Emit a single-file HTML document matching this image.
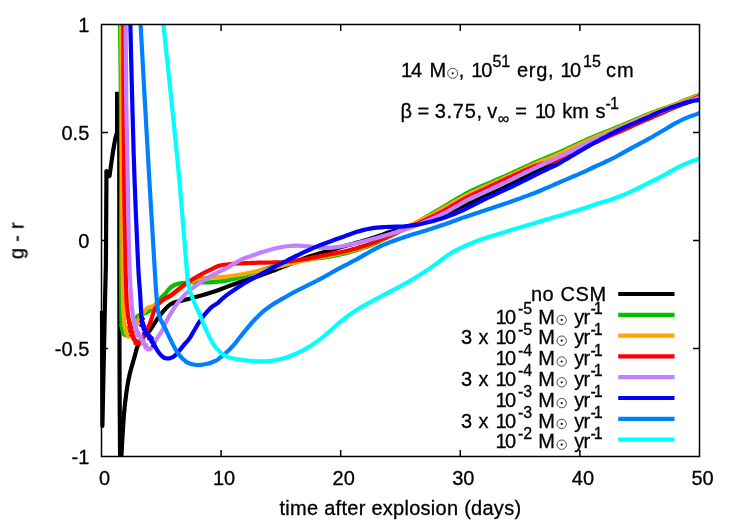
<!DOCTYPE html>
<html><head><meta charset="utf-8"><title>g - r</title>
<style>
html,body{margin:0;padding:0;background:#fff;}
body{width:747px;height:523px;overflow:hidden;}
svg{display:block;}
text{font-family:"Liberation Sans",sans-serif;font-size:20px;fill:#000;stroke:#000;stroke-width:0.3px;}
.s{font-size:16px;}
.c{fill:none;stroke-width:4.2;stroke-linejoin:round;stroke-linecap:butt;}
.sun{fill:none;stroke:#222;stroke-width:0.8;}
</style></head><body>
<svg width="747" height="523" viewBox="0 0 747 523">
<rect width="747" height="523" fill="#fff"/>
<defs><clipPath id="cp"><rect x="98" y="24.5" width="602.0" height="432.0"/></clipPath></defs>

<g clip-path="url(#cp)">
<path class="c" style="stroke-linejoin:round" stroke="#000000" d="M102.0 311.0L102.4 426.0L104.8 311.0L105.9 264.0L106.4 184.0L106.4 171.2L109.5 176.0L113.2 150.0"/>
<path class="c" style="stroke-linejoin:miter" stroke="#000000" d="M112.9 152.0L115.2 139.0L117.1 132.0L117.1 93.9L119.2 93.9L119.3 264.0L119.6 390.0L120.1 460.0"/>
<path class="c" stroke="#000000" d="M121.2 460.0C121.4 455.8 122.1 442.7 122.6 435.0C123.1 427.3 123.4 420.8 124.0 414.0C124.6 407.2 125.3 400.5 126.2 394.0C127.1 387.5 128.1 381.1 129.5 375.0C130.9 368.9 133.1 362.1 134.4 357.3C135.8 352.5 136.2 349.3 137.6 346.1C138.9 342.9 140.5 340.6 142.5 338.0C144.5 335.4 146.8 334.3 149.6 330.7C152.4 327.1 155.8 320.6 159.3 316.2C162.8 311.8 166.5 306.9 170.5 304.2C174.5 301.5 178.6 301.5 183.4 300.2C188.2 298.9 194.1 297.6 199.4 296.1C204.7 294.6 210.6 292.8 215.0 291.3C219.4 289.8 221.6 288.8 226.1 287.1C230.6 285.4 238.4 282.5 242.1 281.2C245.8 279.9 246.1 279.9 248.1 279.3C250.1 278.7 252.1 278.1 254.1 277.4C256.1 276.8 258.1 276.1 260.1 275.4C262.1 274.7 264.1 274.0 266.1 273.3C268.1 272.6 270.1 271.9 272.1 271.1C274.1 270.4 276.1 269.6 278.1 268.8C280.1 268.0 282.1 267.2 284.1 266.4C286.1 265.6 288.1 264.8 290.1 264.0C292.1 263.2 294.1 262.4 296.1 261.6C298.1 260.8 300.1 259.9 302.1 259.2C304.1 258.4 306.1 257.7 308.1 257.0C310.1 256.3 312.1 255.7 314.1 255.0C316.1 254.4 318.1 253.9 320.1 253.3C322.1 252.7 324.1 252.1 326.1 251.6C328.1 251.0 330.1 250.4 332.1 249.8C334.1 249.2 336.1 248.6 338.1 248.0C340.1 247.3 342.1 246.7 344.1 246.2C346.1 245.6 348.1 245.0 350.1 244.5C352.1 243.9 354.1 243.4 356.1 242.8C358.1 242.3 360.1 241.8 362.1 241.2C364.1 240.6 366.1 240.1 368.1 239.5C370.1 238.9 372.1 238.3 374.1 237.6C376.1 237.0 378.1 236.2 380.1 235.5C382.1 234.8 384.1 234.0 386.1 233.3C388.1 232.6 390.1 231.9 392.1 231.3C394.1 230.6 396.1 230.0 398.1 229.4C400.1 228.7 402.1 228.1 404.1 227.5C406.1 226.9 408.1 226.3 410.1 225.7C412.1 225.1 414.1 224.5 416.1 223.8C418.1 223.2 420.1 222.5 422.1 221.9C424.1 221.2 426.1 220.5 428.1 219.8C430.1 219.1 432.1 218.3 434.1 217.6C436.1 216.8 438.1 216.1 440.1 215.3C442.1 214.5 444.1 213.7 446.1 212.9C448.1 212.1 450.1 211.3 452.1 210.5C454.1 209.7 456.1 208.8 458.1 208.0C460.1 207.2 462.1 206.4 464.1 205.5C466.1 204.7 468.1 203.8 470.1 202.9C472.1 202.1 474.1 201.2 476.1 200.3C478.1 199.4 480.1 198.5 482.1 197.6C484.1 196.6 486.1 195.7 488.1 194.8C490.1 193.9 492.1 193.0 494.1 192.1C496.1 191.2 498.1 190.3 500.1 189.3C502.1 188.4 504.1 187.5 506.1 186.5C508.1 185.6 510.1 184.6 512.1 183.6C514.1 182.6 516.1 181.6 518.1 180.6C520.1 179.6 522.1 178.6 524.1 177.7C526.1 176.7 528.1 175.7 530.1 174.7C532.1 173.7 534.1 172.8 536.1 171.8C538.1 170.9 540.1 170.0 542.1 169.2C544.1 168.3 546.1 167.4 548.1 166.5C550.1 165.7 552.1 164.8 554.1 163.9C556.1 162.9 558.1 161.9 560.1 160.9C562.1 159.9 564.1 158.8 566.1 157.8C568.1 156.7 570.1 155.6 572.1 154.5C574.1 153.4 576.1 152.3 578.1 151.2C580.1 150.1 582.1 149.1 584.1 148.0C586.1 146.9 588.1 145.9 590.1 144.8C592.1 143.8 594.1 142.8 596.1 141.8C598.1 140.7 600.1 139.7 602.1 138.7C604.1 137.7 606.1 136.7 608.1 135.7C610.1 134.7 612.1 133.7 614.1 132.7C616.1 131.7 618.1 130.8 620.1 129.8C622.1 128.9 624.1 128.0 626.1 127.1C628.1 126.2 630.1 125.3 632.1 124.4C634.1 123.6 636.1 122.7 638.1 121.8C640.1 120.9 642.1 120.0 644.1 119.2C646.1 118.3 648.1 117.5 650.1 116.6C652.1 115.8 654.1 115.0 656.1 114.3C658.1 113.5 660.1 112.7 662.1 112.0C664.1 111.2 666.1 110.5 668.1 109.7C670.1 109.0 672.1 108.2 674.1 107.5C676.1 106.7 678.1 106.0 680.1 105.2C682.1 104.5 684.1 103.7 686.1 103.0C688.1 102.3 690.1 101.5 692.1 100.9C694.1 100.2 696.9 99.6 698.1 99.2C699.3 98.7 699.3 98.2 699.5 98.0"/>
<path class="c" stroke="#00c000" d="M120.0 22.0C120.2 35.7 120.7 77.0 120.9 104.0C121.1 131.0 121.2 157.3 121.2 184.0C121.2 210.7 121.0 241.7 121.0 264.0C121.0 286.3 121.1 307.1 121.3 318.0C121.5 328.9 121.8 326.7 122.3 329.5C122.8 332.3 123.7 334.1 124.5 334.7C125.3 335.3 125.9 334.8 127.0 333.3C128.1 331.9 129.5 328.6 131.0 326.0C132.5 323.4 134.2 319.8 136.0 317.8C137.8 315.8 140.0 315.0 142.0 314.0C144.0 313.0 146.2 313.1 148.0 312.0C149.8 310.9 151.0 309.6 153.0 307.5C155.0 305.4 157.9 301.6 160.0 299.2C162.1 296.8 163.9 295.1 165.7 293.2C167.4 291.2 168.4 289.1 170.5 287.5C172.6 285.9 175.0 284.4 178.5 283.6C182.0 282.8 186.6 282.7 191.4 282.5C196.2 282.3 203.6 282.6 207.5 282.5C211.4 282.4 211.9 282.2 215.0 281.9C218.1 281.6 221.6 281.5 226.1 280.6C230.6 279.7 238.4 277.6 242.1 276.6C245.8 275.6 246.1 275.2 248.1 274.5C250.1 273.8 252.1 273.1 254.1 272.4C256.1 271.8 258.1 271.1 260.1 270.4C262.1 269.8 264.1 269.1 266.1 268.5C268.1 267.9 270.1 267.4 272.1 266.8C274.1 266.3 276.1 265.8 278.1 265.3C280.1 264.8 282.1 264.4 284.1 263.9C286.1 263.5 288.1 263.1 290.1 262.6C292.1 262.2 294.1 261.8 296.1 261.4C298.1 261.1 300.1 260.7 302.1 260.4C304.1 260.0 306.1 259.7 308.1 259.5C310.1 259.2 312.1 258.9 314.1 258.7C316.1 258.4 318.1 258.2 320.1 258.0C322.1 257.7 324.1 257.5 326.1 257.2C328.1 256.8 330.1 256.5 332.1 256.1C334.1 255.8 336.1 255.4 338.1 255.0C340.1 254.5 342.1 254.1 344.1 253.6C346.1 253.1 348.1 252.6 350.1 252.0C352.1 251.5 354.1 250.9 356.1 250.3C358.1 249.6 360.1 249.0 362.1 248.3C364.1 247.6 366.1 246.9 368.1 246.2C370.1 245.4 372.1 244.6 374.1 243.8C376.1 242.9 378.1 242.0 380.1 241.0C382.1 240.1 384.1 239.1 386.1 238.1C388.1 237.1 390.1 236.0 392.1 235.0C394.1 234.0 396.1 233.0 398.1 232.0C400.1 231.0 402.1 229.9 404.1 228.9C406.1 227.9 408.1 226.8 410.1 225.8C412.1 224.7 414.1 223.7 416.1 222.6C418.1 221.5 420.1 220.4 422.1 219.3C424.1 218.1 426.1 216.9 428.1 215.8C430.1 214.6 432.1 213.4 434.1 212.2C436.1 211.0 438.1 209.9 440.1 208.7C442.1 207.5 444.1 206.4 446.1 205.2C448.1 204.0 450.1 202.8 452.1 201.6C454.1 200.4 456.1 199.2 458.1 198.0C460.1 196.8 462.1 195.6 464.1 194.5C466.1 193.4 468.1 192.4 470.1 191.4C472.1 190.4 474.1 189.5 476.1 188.6C478.1 187.7 480.1 186.9 482.1 186.0C484.1 185.1 486.1 184.3 488.1 183.4C490.1 182.6 492.1 181.7 494.1 180.8C496.1 180.0 498.1 179.1 500.1 178.2C502.1 177.4 504.1 176.5 506.1 175.6C508.1 174.7 510.1 173.8 512.1 172.9C514.1 172.0 516.1 171.0 518.1 170.1C520.1 169.2 522.1 168.3 524.1 167.4C526.1 166.4 528.1 165.5 530.1 164.6C532.1 163.7 534.1 162.8 536.1 162.0C538.1 161.1 540.1 160.3 542.1 159.4C544.1 158.6 546.1 157.8 548.1 157.0C550.1 156.2 552.1 155.4 554.1 154.5C556.1 153.7 558.1 152.8 560.1 151.9C562.1 151.0 564.1 150.1 566.1 149.2C568.1 148.2 570.1 147.3 572.1 146.4C574.1 145.4 576.1 144.5 578.1 143.6C580.1 142.6 582.1 141.7 584.1 140.8C586.1 139.9 588.1 139.1 590.1 138.2C592.1 137.4 594.1 136.5 596.1 135.7C598.1 134.9 600.1 134.1 602.1 133.3C604.1 132.5 606.1 131.7 608.1 130.9C610.1 130.1 612.1 129.3 614.1 128.5C616.1 127.6 618.1 126.8 620.1 126.0C622.1 125.2 624.1 124.3 626.1 123.5C628.1 122.6 630.1 121.8 632.1 120.9C634.1 120.1 636.1 119.2 638.1 118.4C640.1 117.5 642.1 116.7 644.1 115.8C646.1 115.0 648.1 114.2 650.1 113.4C652.1 112.6 654.1 111.9 656.1 111.1C658.1 110.4 660.1 109.7 662.1 109.0C664.1 108.3 666.1 107.6 668.1 106.9C670.1 106.2 672.1 105.5 674.1 104.7C676.1 104.0 678.1 103.2 680.1 102.3C682.1 101.5 684.1 100.6 686.1 99.8C688.1 99.0 690.1 98.1 692.1 97.4C694.1 96.7 696.9 96.0 698.1 95.4C699.3 94.9 699.3 94.3 699.5 94.1"/>
<path class="c" style="stroke-width:3.4" stroke="#00c000" d="M122.3 323.8L120.8 325.4L122.1 326.7L121.7 328.6L123.0 330.5L122.5 332.6L124.1 333.5L126.2 335.4L126.4 332.8L129.2 331.6L128.3 329.0L130.2 328.4"/>
<path class="c" stroke="#ffa500" d="M121.1 22.0C121.2 35.7 121.7 77.0 121.9 104.0C122.1 131.0 122.0 157.3 122.1 184.0C122.2 210.7 122.3 244.7 122.5 264.0C122.7 283.3 122.8 290.7 123.0 300.0C123.2 309.3 123.5 314.8 124.0 320.0C124.5 325.2 125.3 328.8 126.0 331.5C126.7 334.2 127.5 335.7 128.3 336.3C129.1 336.9 129.9 336.6 131.0 335.3C132.1 334.0 133.5 331.6 135.0 328.5C136.5 325.4 138.0 320.4 140.0 317.0C142.0 313.6 145.5 309.9 147.2 308.2C148.9 306.5 148.9 307.4 150.0 307.0C151.1 306.6 152.3 306.6 153.5 306.0C154.7 305.4 155.5 304.4 157.0 303.5C158.5 302.6 160.0 301.9 162.5 300.5C165.0 299.1 168.3 297.6 172.1 295.0C175.8 292.4 181.5 287.6 185.0 285.2C188.5 282.8 190.6 281.9 193.0 280.8C195.4 279.7 196.0 279.0 199.4 278.5C202.8 278.0 208.8 278.0 213.2 277.7C217.6 277.4 221.3 277.2 226.1 276.6C230.9 276.0 238.4 274.8 242.1 274.2C245.8 273.6 246.1 273.4 248.1 273.0C250.1 272.6 252.1 272.2 254.1 271.8C256.1 271.4 258.1 271.0 260.1 270.6C262.1 270.2 264.1 269.8 266.1 269.4C268.1 269.0 270.1 268.6 272.1 268.1C274.1 267.7 276.1 267.2 278.1 266.8C280.1 266.3 282.1 265.8 284.1 265.3C286.1 264.8 288.1 264.3 290.1 263.8C292.1 263.3 294.1 262.8 296.1 262.4C298.1 261.9 300.1 261.5 302.1 261.0C304.1 260.6 306.1 260.2 308.1 259.8C310.1 259.3 312.1 259.0 314.1 258.6C316.1 258.2 318.1 257.8 320.1 257.4C322.1 257.0 324.1 256.7 326.1 256.3C328.1 255.9 330.1 255.5 332.1 255.1C334.1 254.7 336.1 254.3 338.1 253.8C340.1 253.4 342.1 252.9 344.1 252.5C346.1 252.0 348.1 251.5 350.1 250.9C352.1 250.4 354.1 249.9 356.1 249.3C358.1 248.7 360.1 248.0 362.1 247.4C364.1 246.7 366.1 246.0 368.1 245.3C370.1 244.5 372.1 243.7 374.1 242.9C376.1 242.1 378.1 241.2 380.1 240.3C382.1 239.4 384.1 238.4 386.1 237.4C388.1 236.5 390.1 235.5 392.1 234.5C394.1 233.5 396.1 232.5 398.1 231.5C400.1 230.5 402.1 229.5 404.1 228.5C406.1 227.5 408.1 226.6 410.1 225.6C412.1 224.6 414.1 223.7 416.1 222.7C418.1 221.7 420.1 220.8 422.1 219.7C424.1 218.7 426.1 217.7 428.1 216.7C430.1 215.6 432.1 214.6 434.1 213.5C436.1 212.4 438.1 211.3 440.1 210.2C442.1 209.1 444.1 208.0 446.1 206.9C448.1 205.8 450.1 204.6 452.1 203.4C454.1 202.3 456.1 201.1 458.1 199.9C460.1 198.8 462.1 197.6 464.1 196.5C466.1 195.5 468.1 194.4 470.1 193.4C472.1 192.4 474.1 191.5 476.1 190.6C478.1 189.7 480.1 188.8 482.1 187.9C484.1 187.0 486.1 186.1 488.1 185.2C490.1 184.4 492.1 183.5 494.1 182.6C496.1 181.7 498.1 180.8 500.1 179.9C502.1 179.0 504.1 178.1 506.1 177.2C508.1 176.3 510.1 175.4 512.1 174.5C514.1 173.6 516.1 172.6 518.1 171.7C520.1 170.8 522.1 169.9 524.1 169.0C526.1 168.0 528.1 167.1 530.1 166.2C532.1 165.3 534.1 164.4 536.1 163.6C538.1 162.7 540.1 161.9 542.1 161.0C544.1 160.2 546.1 159.4 548.1 158.6C550.1 157.8 552.1 156.9 554.1 156.1C556.1 155.2 558.1 154.3 560.1 153.4C562.1 152.5 564.1 151.6 566.1 150.6C568.1 149.7 570.1 148.7 572.1 147.8C574.1 146.8 576.1 145.8 578.1 144.9C580.1 143.9 582.1 143.0 584.1 142.1C586.1 141.2 588.1 140.3 590.1 139.4C592.1 138.6 594.1 137.7 596.1 136.9C598.1 136.1 600.1 135.3 602.1 134.5C604.1 133.6 606.1 132.8 608.1 132.0C610.1 131.2 612.1 130.4 614.1 129.6C616.1 128.7 618.1 127.9 620.1 127.1C622.1 126.2 624.1 125.4 626.1 124.5C628.1 123.6 630.1 122.8 632.1 121.9C634.1 121.0 636.1 120.2 638.1 119.3C640.1 118.4 642.1 117.5 644.1 116.7C646.1 115.8 648.1 115.0 650.1 114.2C652.1 113.4 654.1 112.6 656.1 111.8C658.1 111.1 660.1 110.3 662.1 109.6C664.1 108.8 666.1 108.1 668.1 107.4C670.1 106.6 672.1 105.9 674.1 105.1C676.1 104.3 678.1 103.5 680.1 102.7C682.1 101.9 684.1 101.1 686.1 100.3C688.1 99.5 690.1 98.7 692.1 98.0C694.1 97.3 696.9 96.6 698.1 96.1C699.3 95.6 699.3 95.0 699.5 94.8"/>
<path class="c" style="stroke-width:3.4" stroke="#ffa500" d="M125.6 323.6L123.7 325.6L125.7 326.8L124.9 329.3L126.5 331.0L125.5 332.8L128.0 334.4L127.7 336.8L129.3 335.4L132.3 335.1L131.5 332.5L134.2 331.6"/>
<path class="c" stroke="#ff0000" d="M123.2 22.0C123.2 35.7 123.3 77.0 123.5 104.0C123.7 131.0 123.9 157.3 124.2 184.0C124.5 210.7 125.0 243.3 125.5 264.0C126.0 284.7 126.2 297.0 127.1 308.0C128.0 319.0 129.9 324.8 131.1 330.0C132.2 335.2 132.9 336.7 134.0 339.0C135.1 341.3 136.5 343.3 137.6 343.6C138.7 343.9 139.6 342.2 140.5 341.0C141.4 339.8 141.7 339.2 143.2 336.4C144.7 333.6 147.6 329.0 149.6 324.3C151.6 319.6 153.0 312.2 155.2 308.2C157.3 304.2 159.7 302.5 162.5 300.2C165.3 297.9 168.3 297.2 172.1 294.5C175.8 291.8 180.4 287.3 185.0 284.1C189.6 280.9 194.9 277.8 199.4 275.3C203.9 272.8 208.6 270.6 212.0 269.0C215.4 267.4 215.9 266.5 219.6 265.6C223.3 264.7 230.7 264.1 234.1 263.7C237.5 263.3 238.1 263.5 240.1 263.4C242.1 263.3 244.1 263.2 246.1 263.1C248.1 263.0 250.1 263.0 252.1 262.9C254.1 262.8 256.1 262.8 258.1 262.7C260.1 262.7 262.1 262.6 264.1 262.6C266.1 262.6 268.1 262.6 270.1 262.5C272.1 262.5 274.1 262.5 276.1 262.4C278.1 262.3 280.1 262.2 282.1 262.1C284.1 261.9 286.1 261.7 288.1 261.5C290.1 261.2 292.1 261.0 294.1 260.7C296.1 260.4 298.1 260.1 300.1 259.8C302.1 259.5 304.1 259.2 306.1 258.8C308.1 258.5 310.1 258.1 312.1 257.7C314.1 257.4 316.1 257.0 318.1 256.6C320.1 256.2 322.1 255.7 324.1 255.4C326.1 255.0 328.1 254.6 330.1 254.2C332.1 253.8 334.1 253.5 336.1 253.1C338.1 252.7 340.1 252.3 342.1 251.9C344.1 251.4 346.1 251.0 348.1 250.5C350.1 250.0 352.1 249.4 354.1 248.9C356.1 248.3 358.1 247.7 360.1 247.1C362.1 246.5 364.1 245.9 366.1 245.2C368.1 244.6 370.1 243.9 372.1 243.1C374.1 242.4 376.1 241.6 378.1 240.8C380.1 240.0 382.1 239.1 384.1 238.2C386.1 237.4 388.1 236.5 390.1 235.6C392.1 234.7 394.1 233.9 396.1 233.0C398.1 232.1 400.1 231.2 402.1 230.3C404.1 229.5 406.1 228.6 408.1 227.7C410.1 226.8 412.1 225.9 414.1 225.0C416.1 224.2 418.1 223.3 420.1 222.3C422.1 221.4 424.1 220.5 426.1 219.6C428.1 218.6 430.1 217.7 432.1 216.7C434.1 215.7 436.1 214.7 438.1 213.7C440.1 212.6 442.1 211.6 444.1 210.5C446.1 209.4 448.1 208.2 450.1 207.1C452.1 205.9 454.1 204.8 456.1 203.6C458.1 202.5 460.1 201.3 462.1 200.2C464.1 199.1 466.1 198.0 468.1 196.9C470.1 195.9 472.1 194.9 474.1 193.9C476.1 193.0 478.1 192.1 480.1 191.1C482.1 190.2 484.1 189.3 486.1 188.3C488.1 187.4 490.1 186.5 492.1 185.5C494.1 184.6 496.1 183.7 498.1 182.8C500.1 181.8 502.1 180.9 504.1 180.0C506.1 179.0 508.1 178.1 510.1 177.2C512.1 176.3 514.1 175.3 516.1 174.4C518.1 173.5 520.1 172.6 522.1 171.6C524.1 170.7 526.1 169.8 528.1 168.9C530.1 168.1 532.1 167.2 534.1 166.5C536.1 165.8 538.1 165.1 540.1 164.6C542.1 164.0 544.1 163.6 546.1 163.1C548.1 162.7 550.1 162.3 552.1 161.8C554.1 161.3 556.1 160.8 558.1 160.1C560.1 159.5 562.1 158.7 564.1 157.8C566.1 156.9 568.1 155.9 570.1 154.9C572.1 153.9 574.1 152.8 576.1 151.7C578.1 150.7 580.1 149.6 582.1 148.6C584.1 147.5 586.1 146.5 588.1 145.6C590.1 144.6 592.1 143.7 594.1 142.8C596.1 141.9 598.1 141.0 600.1 140.2C602.1 139.3 604.1 138.4 606.1 137.5C608.1 136.7 610.1 135.8 612.1 134.9C614.1 134.0 616.1 133.2 618.1 132.3C620.1 131.4 622.1 130.5 624.1 129.7C626.1 128.8 628.1 127.9 630.1 127.0C632.1 126.1 634.1 125.2 636.1 124.4C638.1 123.5 640.1 122.6 642.1 121.7C644.1 120.8 646.1 119.9 648.1 119.1C650.1 118.2 652.1 117.3 654.1 116.4C656.1 115.5 658.1 114.7 660.1 113.8C662.1 112.9 664.1 112.0 666.1 111.2C668.1 110.3 670.1 109.4 672.1 108.5C674.1 107.6 676.1 106.7 678.1 105.8C680.1 104.9 682.1 104.0 684.1 103.1C686.1 102.2 688.1 101.2 690.1 100.4C692.1 99.6 694.5 98.7 696.1 98.0C697.7 97.3 698.9 96.3 699.5 96.0"/>
<path class="c" style="stroke-width:3.4" stroke="#ff0000" d="M130.1 320.6L128.4 322.4L130.5 324.4L128.8 326.9L132.5 328.4L129.8 331.1L133.0 332.2L130.7 335.0L134.0 335.9L133.1 339.0L136.1 340.0L135.0 343.6L137.9 342.5L140.2 342.7L140.1 340.0L142.6 339.2L141.9 337.1L144.7 336.0L143.9 333.5L147.0 332.4"/>
<path class="c" stroke="#c080ff" d="M125.6 22.0C125.7 35.7 125.9 77.0 126.3 104.0C126.7 131.0 127.3 157.3 127.8 184.0C128.3 210.7 128.7 243.3 129.4 264.0C130.1 284.7 131.1 298.1 132.0 308.2C132.9 318.2 133.8 320.5 134.6 324.3C135.4 328.1 135.3 328.2 136.6 331.0C137.9 333.8 141.0 338.5 142.6 341.2C144.2 343.9 145.2 345.6 146.3 347.0C147.4 348.4 148.2 349.3 149.2 349.3C150.2 349.3 151.1 348.6 152.2 347.0C153.3 345.4 154.3 342.8 156.0 340.0C157.7 337.2 160.6 333.4 162.5 330.0C164.4 326.6 164.6 324.1 167.3 319.4C170.0 314.7 174.5 306.9 178.5 301.8C182.5 296.7 186.6 292.9 191.4 288.9C196.2 284.9 203.6 280.4 207.5 277.9C211.4 275.4 211.9 275.4 215.0 273.8C218.1 272.2 221.6 270.7 226.1 268.3C230.6 265.9 238.4 261.0 242.1 259.1C245.8 257.2 246.1 257.7 248.1 257.0C250.1 256.3 252.1 255.6 254.1 254.9C256.1 254.2 258.1 253.5 260.1 252.8C262.1 252.2 264.1 251.5 266.1 250.9C268.1 250.3 270.1 249.7 272.1 249.2C274.1 248.7 276.1 248.2 278.1 247.8C280.1 247.4 282.1 247.0 284.1 246.7C286.1 246.4 288.1 246.2 290.1 246.0C292.1 245.9 294.1 245.7 296.1 245.7C298.1 245.7 300.1 245.8 302.1 245.9C304.1 246.0 306.1 246.2 308.1 246.4C310.1 246.6 312.1 246.8 314.1 247.0C316.1 247.2 318.1 247.4 320.1 247.6C322.1 247.7 324.1 247.8 326.1 247.8C328.1 247.8 330.1 247.8 332.1 247.6C334.1 247.5 336.1 247.2 338.1 246.9C340.1 246.6 342.1 246.2 344.1 245.8C346.1 245.4 348.1 245.0 350.1 244.5C352.1 244.1 354.1 243.6 356.1 243.2C358.1 242.7 360.1 242.2 362.1 241.7C364.1 241.2 366.1 240.7 368.1 240.2C370.1 239.7 372.1 239.2 374.1 238.6C376.1 238.1 378.1 237.5 380.1 236.9C382.1 236.4 384.1 235.8 386.1 235.2C388.1 234.6 390.1 234.0 392.1 233.4C394.1 232.9 396.1 232.3 398.1 231.7C400.1 231.1 402.1 230.5 404.1 229.8C406.1 229.2 408.1 228.4 410.1 227.7C412.1 227.0 414.1 226.2 416.1 225.4C418.1 224.6 420.1 223.8 422.1 223.0C424.1 222.1 426.1 221.3 428.1 220.5C430.1 219.6 432.1 218.8 434.1 217.9C436.1 217.0 438.1 216.1 440.1 215.1C442.1 214.1 444.1 213.1 446.1 212.1C448.1 211.0 450.1 209.9 452.1 208.7C454.1 207.6 456.1 206.4 458.1 205.3C460.1 204.1 462.1 203.0 464.1 201.9C466.1 200.8 468.1 199.7 470.1 198.7C472.1 197.7 474.1 196.8 476.1 195.8C478.1 194.9 480.1 194.0 482.1 193.1C484.1 192.2 486.1 191.3 488.1 190.4C490.1 189.5 492.1 188.6 494.1 187.6C496.1 186.7 498.1 185.8 500.1 184.9C502.1 184.0 504.1 183.0 506.1 182.1C508.1 181.1 510.1 180.1 512.1 179.1C514.1 178.2 516.1 177.2 518.1 176.2C520.1 175.2 522.1 174.2 524.1 173.2C526.1 172.2 528.1 171.3 530.1 170.3C532.1 169.3 534.1 168.3 536.1 167.4C538.1 166.5 540.1 165.5 542.1 164.6C544.1 163.7 546.1 162.8 548.1 161.9C550.1 161.0 552.1 160.1 554.1 159.2C556.1 158.3 558.1 157.3 560.1 156.4C562.1 155.5 564.1 154.5 566.1 153.5C568.1 152.6 570.1 151.6 572.1 150.6C574.1 149.7 576.1 148.7 578.1 147.7C580.1 146.7 582.1 145.8 584.1 144.8C586.1 143.9 588.1 142.9 590.1 142.0C592.1 141.1 594.1 140.2 596.1 139.2C598.1 138.3 600.1 137.4 602.1 136.5C604.1 135.6 606.1 134.7 608.1 133.8C610.1 132.9 612.1 132.0 614.1 131.1C616.1 130.2 618.1 129.3 620.1 128.4C622.1 127.5 624.1 126.7 626.1 125.8C628.1 125.0 630.1 124.1 632.1 123.3C634.1 122.4 636.1 121.6 638.1 120.7C640.1 119.9 642.1 119.0 644.1 118.2C646.1 117.4 648.1 116.5 650.1 115.8C652.1 115.0 654.1 114.2 656.1 113.4C658.1 112.7 660.1 111.9 662.1 111.2C664.1 110.5 666.1 109.7 668.1 109.0C670.1 108.2 672.1 107.5 674.1 106.7C676.1 106.0 678.1 105.2 680.1 104.4C682.1 103.7 684.1 102.9 686.1 102.1C688.1 101.3 690.1 100.5 692.1 99.8C694.1 99.2 696.9 98.5 698.1 98.0C699.3 97.5 699.3 97.0 699.5 96.8"/>
<path class="c" style="stroke-width:3.4" stroke="#c080ff" d="M135.1 318.4L132.7 321.4L136.0 322.4L133.8 324.9L136.2 327.1L134.4 329.3L137.3 330.0L136.2 333.0L139.1 332.8L137.5 335.9L141.6 336.7L140.7 339.7L144.0 340.3L142.4 344.2L146.2 344.8L145.1 348.0L147.8 347.5L147.7 349.8L149.5 348.4"/>
<path class="c" stroke="#0000ff" d="M130.3 22.0C130.6 35.7 131.6 77.0 132.3 104.0C133.0 131.0 133.7 157.3 134.7 184.0C135.7 210.7 137.2 246.0 138.1 264.0C138.9 282.0 139.4 283.1 140.0 292.1C140.6 301.1 141.0 312.2 141.6 318.0C142.2 323.8 142.5 324.4 143.3 327.0C144.1 329.6 145.3 331.4 146.6 333.5C147.9 335.6 149.8 337.6 151.2 339.8C152.6 342.0 153.8 344.6 155.2 346.9C156.5 349.1 158.0 351.6 159.3 353.3C160.6 355.0 161.8 356.1 163.0 357.0C164.2 357.9 165.2 358.2 166.5 358.4C167.8 358.6 169.0 358.5 170.5 358.0C172.0 357.5 172.9 357.6 175.3 355.2C177.7 352.9 182.6 346.6 185.0 343.7C187.4 340.8 187.6 341.3 190.0 337.7C192.4 334.1 196.1 326.7 199.4 321.8C202.7 316.9 206.9 311.6 210.0 308.5C213.1 305.3 215.3 304.9 218.0 302.8C220.7 300.6 222.1 298.6 226.1 295.6C230.1 292.5 238.4 287.1 242.1 284.7C245.8 282.3 246.1 282.4 248.1 281.2C250.1 280.1 252.1 278.9 254.1 277.8C256.1 276.7 258.1 275.6 260.1 274.5C262.1 273.4 264.1 272.4 266.1 271.3C268.1 270.3 270.1 269.3 272.1 268.2C274.1 267.2 276.1 266.2 278.1 265.1C280.1 264.1 282.1 263.1 284.1 262.1C286.1 261.1 288.1 260.0 290.1 259.0C292.1 258.0 294.1 257.0 296.1 256.0C298.1 255.0 300.1 254.1 302.1 253.1C304.1 252.1 306.1 251.2 308.1 250.3C310.1 249.4 312.1 248.5 314.1 247.6C316.1 246.8 318.1 245.9 320.1 245.1C322.1 244.4 324.1 243.6 326.1 242.9C328.1 242.2 330.1 241.5 332.1 240.8C334.1 240.0 336.1 239.3 338.1 238.6C340.1 237.9 342.1 237.1 344.1 236.4C346.1 235.6 348.1 234.9 350.1 234.2C352.1 233.5 354.1 232.8 356.1 232.1C358.1 231.5 360.1 230.9 362.1 230.4C364.1 229.9 366.1 229.4 368.1 229.0C370.1 228.6 372.1 228.2 374.1 227.9C376.1 227.7 378.1 227.5 380.1 227.3C382.1 227.2 384.1 227.1 386.1 227.0C388.1 226.9 390.1 226.9 392.1 226.8C394.1 226.7 396.1 226.7 398.1 226.6C400.1 226.5 402.1 226.4 404.1 226.3C406.1 226.1 408.1 225.9 410.1 225.7C412.1 225.4 414.1 225.1 416.1 224.8C418.1 224.5 420.1 224.1 422.1 223.7C424.1 223.3 426.1 222.8 428.1 222.3C430.1 221.8 432.1 221.3 434.1 220.7C436.1 220.2 438.1 219.5 440.1 218.9C442.1 218.3 444.1 217.6 446.1 216.9C448.1 216.2 450.1 215.5 452.1 214.8C454.1 214.0 456.1 213.3 458.1 212.4C460.1 211.6 462.1 210.7 464.1 209.7C466.1 208.7 468.1 207.7 470.1 206.7C472.1 205.6 474.1 204.6 476.1 203.6C478.1 202.5 480.1 201.5 482.1 200.5C484.1 199.5 486.1 198.6 488.1 197.6C490.1 196.7 492.1 195.8 494.1 194.8C496.1 193.9 498.1 193.0 500.1 192.1C502.1 191.1 504.1 190.2 506.1 189.3C508.1 188.3 510.1 187.4 512.1 186.5C514.1 185.5 516.1 184.6 518.1 183.6C520.1 182.6 522.1 181.6 524.1 180.7C526.1 179.7 528.1 178.6 530.1 177.6C532.1 176.6 534.1 175.6 536.1 174.6C538.1 173.7 540.1 172.7 542.1 171.7C544.1 170.8 546.1 169.9 548.1 168.9C550.1 167.9 552.1 167.0 554.1 166.0C556.1 165.0 558.1 163.9 560.1 162.8C562.1 161.7 564.1 160.5 566.1 159.3C568.1 158.2 570.1 156.9 572.1 155.7C574.1 154.5 576.1 153.3 578.1 152.1C580.1 150.9 582.1 149.7 584.1 148.6C586.1 147.4 588.1 146.3 590.1 145.1C592.1 144.0 594.1 143.0 596.1 141.9C598.1 140.8 600.1 139.8 602.1 138.7C604.1 137.6 606.1 136.6 608.1 135.5C610.1 134.5 612.1 133.4 614.1 132.4C616.1 131.4 618.1 130.4 620.1 129.4C622.1 128.5 624.1 127.6 626.1 126.7C628.1 125.8 630.1 125.0 632.1 124.1C634.1 123.3 636.1 122.4 638.1 121.6C640.1 120.7 642.1 119.9 644.1 119.0C646.1 118.1 648.1 117.2 650.1 116.3C652.1 115.3 654.1 114.4 656.1 113.5C658.1 112.6 660.1 111.7 662.1 110.9C664.1 110.1 666.1 109.4 668.1 108.7C670.1 107.9 672.1 107.3 674.1 106.5C676.1 105.8 678.1 105.1 680.1 104.4C682.1 103.7 684.1 103.0 686.1 102.5C688.1 101.9 690.1 101.4 692.1 101.0C694.1 100.6 696.9 100.4 698.1 100.1C699.3 99.8 699.3 99.6 699.5 99.5"/>
<path class="c" style="stroke-width:3.4" stroke="#0000ff" d="M142.3 315.3L140.7 317.0L143.3 318.8L140.9 321.6L143.5 322.9L140.8 325.3L144.4 325.8L143.1 329.1L145.9 329.9L144.0 332.7L147.2 332.8L146.1 335.4L150.1 335.8L148.7 338.8L152.2 337.9L151.1 341.9L154.1 342.9L152.8 345.6L156.4 346.5"/>
<path class="c" stroke="#0080ff" d="M140.5 22.0C141.2 35.7 143.5 77.0 145.0 104.0C146.5 131.0 148.0 157.3 149.6 184.0C151.2 210.7 153.2 244.6 154.4 264.0C155.6 283.4 156.0 291.5 156.8 300.2C157.6 308.9 157.8 311.3 159.3 316.2C160.8 321.1 163.6 325.1 165.7 329.5C167.8 333.9 170.0 338.8 172.1 342.9C174.2 347.0 176.1 350.9 178.5 354.1C180.9 357.3 183.7 360.3 186.6 362.1C189.5 363.9 192.7 364.7 196.2 365.0C199.7 365.3 204.4 364.5 207.5 363.8C210.6 363.2 213.2 361.7 215.0 361.0C216.8 360.3 216.2 360.7 218.0 359.4C219.8 358.0 223.4 355.3 226.1 352.8C228.8 350.4 231.8 347.2 234.1 344.6C236.4 342.0 238.1 339.5 240.1 337.0C242.1 334.4 244.1 332.0 246.1 329.6C248.1 327.2 250.1 324.8 252.1 322.5C254.1 320.3 256.1 318.1 258.1 316.2C260.1 314.2 262.1 312.4 264.1 310.7C266.1 309.1 268.1 307.6 270.1 306.2C272.1 304.9 274.1 303.6 276.1 302.4C278.1 301.2 280.1 300.1 282.1 298.9C284.1 297.8 286.1 296.6 288.1 295.5C290.1 294.4 292.1 293.3 294.1 292.2C296.1 291.2 298.1 290.2 300.1 289.2C302.1 288.2 304.1 287.2 306.1 286.2C308.1 285.2 310.1 284.2 312.1 283.2C314.1 282.1 316.1 281.1 318.1 280.0C320.1 279.0 322.1 277.9 324.1 276.8C326.1 275.7 328.1 274.6 330.1 273.5C332.1 272.4 334.1 271.2 336.1 270.1C338.1 269.0 340.1 267.9 342.1 266.9C344.1 265.8 346.1 264.8 348.1 263.8C350.1 262.8 352.1 261.8 354.1 260.7C356.1 259.7 358.1 258.6 360.1 257.4C362.1 256.3 364.1 255.1 366.1 253.9C368.1 252.8 370.1 251.6 372.1 250.5C374.1 249.4 376.1 248.4 378.1 247.4C380.1 246.4 382.1 245.5 384.1 244.6C386.1 243.7 388.1 242.9 390.1 242.1C392.1 241.3 394.1 240.6 396.1 239.9C398.1 239.2 400.1 238.5 402.1 237.9C404.1 237.2 406.1 236.6 408.1 236.0C410.1 235.3 412.1 234.7 414.1 234.1C416.1 233.5 418.1 232.9 420.1 232.3C422.1 231.6 424.1 231.0 426.1 230.4C428.1 229.8 430.1 229.1 432.1 228.5C434.1 227.8 436.1 227.2 438.1 226.5C440.1 225.8 442.1 225.1 444.1 224.5C446.1 223.8 448.1 223.1 450.1 222.4C452.1 221.7 454.1 220.9 456.1 220.2C458.1 219.5 460.1 218.8 462.1 218.1C464.1 217.4 466.1 216.8 468.1 216.1C470.1 215.4 472.1 214.7 474.1 214.0C476.1 213.3 478.1 212.7 480.1 212.0C482.1 211.3 484.1 210.7 486.1 210.0C488.1 209.3 490.1 208.7 492.1 208.0C494.1 207.3 496.1 206.7 498.1 206.0C500.1 205.3 502.1 204.6 504.1 203.9C506.1 203.3 508.1 202.6 510.1 201.9C512.1 201.2 514.1 200.5 516.1 199.8C518.1 199.1 520.1 198.4 522.1 197.6C524.1 196.9 526.1 196.2 528.1 195.4C530.1 194.7 532.1 193.9 534.1 193.2C536.1 192.4 538.1 191.6 540.1 190.8C542.1 189.9 544.1 189.1 546.1 188.2C548.1 187.4 550.1 186.5 552.1 185.6C554.1 184.7 556.1 183.8 558.1 183.0C560.1 182.1 562.1 181.2 564.1 180.4C566.1 179.5 568.1 178.7 570.1 177.8C572.1 177.0 574.1 176.1 576.1 175.3C578.1 174.4 580.1 173.5 582.1 172.6C584.1 171.7 586.1 170.8 588.1 169.8C590.1 168.9 592.1 168.0 594.1 167.0C596.1 166.1 598.1 165.2 600.1 164.3C602.1 163.4 604.1 162.5 606.1 161.5C608.1 160.6 610.1 159.7 612.1 158.7C614.1 157.7 616.1 156.6 618.1 155.5C620.1 154.4 622.1 153.3 624.1 152.1C626.1 151.0 628.1 149.9 630.1 148.8C632.1 147.7 634.1 146.6 636.1 145.6C638.1 144.5 640.1 143.4 642.1 142.3C644.1 141.3 646.1 140.2 648.1 139.1C650.1 138.0 652.1 136.9 654.1 135.7C656.1 134.6 658.1 133.5 660.1 132.3C662.1 131.1 664.1 129.9 666.1 128.7C668.1 127.5 670.1 126.3 672.1 125.1C674.1 123.9 676.1 122.8 678.1 121.8C680.1 120.7 682.1 119.8 684.1 118.9C686.1 118.0 688.1 117.2 690.1 116.4C692.1 115.7 694.5 115.0 696.1 114.4C697.7 113.8 698.9 113.1 699.5 112.8"/>
<path class="c" stroke="#00ffff" d="M163.1 22.0C164.6 35.7 169.0 77.0 171.8 104.0C174.6 131.0 177.3 157.3 179.7 184.0C182.1 210.7 184.9 247.3 186.3 264.0C187.7 280.7 187.0 278.1 188.2 284.1C189.4 290.1 191.5 295.3 193.3 300.2C195.2 305.1 197.6 309.4 199.3 313.4C201.0 317.4 202.0 320.2 203.6 324.0C205.2 327.8 207.1 332.4 208.9 336.0C210.7 339.6 212.4 342.9 214.5 345.8C216.6 348.7 219.0 351.3 221.5 353.3C224.0 355.3 227.0 356.7 229.3 357.6C231.6 358.5 233.3 358.4 235.3 358.8C237.3 359.1 239.3 359.5 241.3 359.8C243.3 360.1 245.3 360.4 247.3 360.6C249.3 360.8 251.3 361.0 253.3 361.1C255.3 361.2 257.3 361.3 259.3 361.3C261.3 361.4 263.3 361.4 265.3 361.3C267.3 361.2 269.3 361.1 271.3 360.8C273.3 360.6 275.3 360.3 277.3 359.9C279.3 359.5 281.3 359.0 283.3 358.4C285.3 357.9 287.3 357.2 289.3 356.5C291.3 355.7 293.3 354.9 295.3 354.0C297.3 353.1 299.3 352.1 301.3 351.1C303.3 350.1 305.3 349.0 307.3 347.9C309.3 346.7 311.3 345.5 313.3 344.2C315.3 342.8 317.3 341.4 319.3 339.9C321.3 338.4 323.3 336.7 325.3 335.0C327.3 333.4 329.3 331.5 331.3 329.8C333.3 328.0 335.3 326.2 337.3 324.5C339.3 322.7 341.3 321.1 343.3 319.5C345.3 317.9 347.3 316.3 349.3 314.9C351.3 313.4 353.3 312.0 355.3 310.7C357.3 309.4 359.3 308.2 361.3 307.0C363.3 305.8 365.3 304.8 367.3 303.7C369.3 302.6 371.3 301.6 373.3 300.5C375.3 299.4 377.3 298.4 379.3 297.3C381.3 296.3 383.3 295.2 385.3 294.1C387.3 293.1 389.3 292.0 391.3 291.0C393.3 289.9 395.3 288.9 397.3 287.8C399.3 286.8 401.3 285.7 403.3 284.6C405.3 283.5 407.3 282.4 409.3 281.2C411.3 280.1 413.3 278.9 415.3 277.7C417.3 276.5 419.3 275.3 421.3 274.0C423.3 272.7 425.3 271.4 427.3 270.1C429.3 268.7 431.3 267.3 433.3 265.9C435.3 264.5 437.3 263.0 439.3 261.5C441.3 260.0 443.3 258.4 445.3 257.0C447.3 255.6 449.3 254.3 451.3 253.0C453.3 251.8 455.3 250.7 457.3 249.7C459.3 248.6 461.3 247.7 463.3 246.8C465.3 245.8 467.3 245.0 469.3 244.1C471.3 243.3 473.3 242.5 475.3 241.8C477.3 241.0 479.3 240.3 481.3 239.6C483.3 238.9 485.3 238.2 487.3 237.6C489.3 236.9 491.3 236.3 493.3 235.6C495.3 235.0 497.3 234.4 499.3 233.7C501.3 233.1 503.3 232.5 505.3 231.9C507.3 231.3 509.3 230.7 511.3 230.1C513.3 229.5 515.3 228.9 517.3 228.3C519.3 227.7 521.3 227.1 523.3 226.5C525.3 225.9 527.3 225.3 529.3 224.7C531.3 224.1 533.3 223.5 535.3 222.9C537.3 222.3 539.3 221.7 541.3 221.1C543.3 220.5 545.3 219.9 547.3 219.3C549.3 218.7 551.3 218.1 553.3 217.5C555.3 216.9 557.3 216.3 559.3 215.8C561.3 215.2 563.3 214.6 565.3 214.0C567.3 213.4 569.3 212.8 571.3 212.2C573.3 211.6 575.3 211.1 577.3 210.4C579.3 209.8 581.3 209.2 583.3 208.5C585.3 207.9 587.3 207.2 589.3 206.5C591.3 205.8 593.3 205.1 595.3 204.5C597.3 203.8 599.3 203.2 601.3 202.6C603.3 201.9 605.3 201.3 607.3 200.7C609.3 200.1 611.3 199.4 613.3 198.7C615.3 198.0 617.3 197.3 619.3 196.5C621.3 195.7 623.3 194.9 625.3 194.1C627.3 193.2 629.3 192.4 631.3 191.4C633.3 190.5 635.3 189.6 637.3 188.6C639.3 187.6 641.3 186.6 643.3 185.6C645.3 184.6 647.3 183.6 649.3 182.6C651.3 181.7 653.3 180.7 655.3 179.7C657.3 178.7 659.3 177.7 661.3 176.6C663.3 175.6 665.3 174.5 667.3 173.3C669.3 172.2 671.3 171.0 673.3 169.9C675.3 168.8 677.3 167.7 679.3 166.6C681.3 165.6 683.3 164.7 685.3 163.8C687.3 162.9 689.3 162.1 691.3 161.4C693.3 160.7 695.9 160.1 697.3 159.5C698.7 159.0 699.1 158.3 699.5 158.1"/>
</g>
<g stroke="#000" stroke-width="1.5" fill="none">
<rect x="101.5" y="24.5" width="598.0" height="432.0"/>
<path d="M221.1 456.5v-6.5M221.1 24.5v6.5M340.7 456.5v-6.5M340.7 24.5v6.5M460.3 456.5v-6.5M460.3 24.5v6.5M579.9 456.5v-6.5M579.9 24.5v6.5M101.5 132.5h6.5M699.5 132.5h-6.5M101.5 240.5h6.5M699.5 240.5h-6.5M101.5 348.5h6.5M699.5 348.5h-6.5"/></g>
<g style="will-change:transform">
<text x="89.3" y="31.7" text-anchor="end">1</text>
<text x="89.3" y="139.7" text-anchor="end">0.5</text>
<text x="89.3" y="247.7" text-anchor="end">0</text>
<text x="89.3" y="355.7" text-anchor="end">-0.5</text>
<text x="89.3" y="463.7" text-anchor="end">-1</text>
<text x="104.5" y="485" text-anchor="middle">0</text>
<text x="224.1" y="485" text-anchor="middle">10</text>
<text x="343.7" y="485" text-anchor="middle">20</text>
<text x="463.3" y="485" text-anchor="middle">30</text>
<text x="582.9" y="485" text-anchor="middle">40</text>
<text x="702.5" y="485" text-anchor="middle">50</text>
<text x="279.5" y="515.0" letter-spacing="0.27">time after explosion (days)</text>
<text transform="translate(23.5,259.1) rotate(-90)" letter-spacing="0.25">g - r</text>
<text x="401.0" y="77.0" letter-spacing="-1.20">14</text>
<text x="429.4" y="77.0">M</text>
<circle class="sun" cx="452.7" cy="73.3" r="5.0"/><circle cx="452.7" cy="73.3" r="1.1" fill="#111"/>
<text x="458.8" y="77.0">,</text>
<text x="471.3" y="77.0" letter-spacing="-1.20">10</text>
<text class="s" x="492.4" y="67.4">51</text>
<text x="517.0" y="77.0" letter-spacing="0.70">erg,</text>
<text x="560.5" y="77.0" letter-spacing="-1.70">10</text>
<text class="s" x="583.1" y="67.4">15</text>
<text x="606.0" y="77.0" letter-spacing="1.00">cm</text>
<text x="400.5" y="118.3">β</text>
<text x="417.5" y="118.3">=</text>
<text x="434.7" y="118.3" letter-spacing="0.75">3.75,</text>
<text x="487.3" y="118.3">v</text>
<text class="s" x="497.8" y="124.3">∞</text>
<text x="515.3" y="118.3">=</text>
<text x="535.0" y="118.3" letter-spacing="-1.80">10</text>
<text x="562.2" y="118.3">km</text>
<text x="595.5" y="118.3">s</text>
<text class="s" x="605.6" y="109.1" letter-spacing="-0.80">-1</text>
<path stroke="#000000" stroke-width="4.2" d="M618.2 294.0H674.5"/>
<text x="530.9" y="300.8" letter-spacing="0.60">no CSM</text>
<path stroke="#00c000" stroke-width="4.2" d="M618.2 314.8H674.5"/>
<text x="495.4" y="323.6" letter-spacing="-1.60">10</text>
<text class="s" x="517.9" y="313.9">-5</text>
<text x="538.3" y="323.6">M</text>
<circle class="sun" cx="561.7" cy="319.9" r="4.7"/><circle cx="561.7" cy="319.9" r="1.1" fill="#111"/>
<text x="574.3" y="323.6" letter-spacing="-0.90">yr</text>
<text class="s" x="590.5" y="313.9" letter-spacing="-2.10">-1</text>
<path stroke="#ffa500" stroke-width="4.2" d="M618.2 335.6H674.5"/>
<text x="461.0" y="344.4">3</text>
<text x="478.5" y="344.4">x</text>
<text x="495.4" y="344.4" letter-spacing="-1.60">10</text>
<text class="s" x="517.9" y="334.7">-5</text>
<text x="538.3" y="344.4">M</text>
<circle class="sun" cx="561.7" cy="340.7" r="4.7"/><circle cx="561.7" cy="340.7" r="1.1" fill="#111"/>
<text x="574.3" y="344.4" letter-spacing="-0.90">yr</text>
<text class="s" x="590.5" y="334.7" letter-spacing="-2.10">-1</text>
<path stroke="#ff0000" stroke-width="4.2" d="M618.2 356.4H674.5"/>
<text x="495.4" y="365.2" letter-spacing="-1.60">10</text>
<text class="s" x="517.9" y="355.5">-4</text>
<text x="538.3" y="365.2">M</text>
<circle class="sun" cx="561.7" cy="361.5" r="4.7"/><circle cx="561.7" cy="361.5" r="1.1" fill="#111"/>
<text x="574.3" y="365.2" letter-spacing="-0.90">yr</text>
<text class="s" x="590.5" y="355.5" letter-spacing="-2.10">-1</text>
<path stroke="#c080ff" stroke-width="4.2" d="M618.2 377.2H674.5"/>
<text x="461.0" y="386.0">3</text>
<text x="478.5" y="386.0">x</text>
<text x="495.4" y="386.0" letter-spacing="-1.60">10</text>
<text class="s" x="517.9" y="376.3">-4</text>
<text x="538.3" y="386.0">M</text>
<circle class="sun" cx="561.7" cy="382.3" r="4.7"/><circle cx="561.7" cy="382.3" r="1.1" fill="#111"/>
<text x="574.3" y="386.0" letter-spacing="-0.90">yr</text>
<text class="s" x="590.5" y="376.3" letter-spacing="-2.10">-1</text>
<path stroke="#0000ff" stroke-width="4.2" d="M618.2 398.0H674.5"/>
<text x="495.4" y="406.8" letter-spacing="-1.60">10</text>
<text class="s" x="517.9" y="397.1">-3</text>
<text x="538.3" y="406.8">M</text>
<circle class="sun" cx="561.7" cy="403.1" r="4.7"/><circle cx="561.7" cy="403.1" r="1.1" fill="#111"/>
<text x="574.3" y="406.8" letter-spacing="-0.90">yr</text>
<text class="s" x="590.5" y="397.1" letter-spacing="-2.10">-1</text>
<path stroke="#0080ff" stroke-width="4.2" d="M618.2 418.8H674.5"/>
<text x="461.0" y="427.6">3</text>
<text x="478.5" y="427.6">x</text>
<text x="495.4" y="427.6" letter-spacing="-1.60">10</text>
<text class="s" x="517.9" y="417.9">-3</text>
<text x="538.3" y="427.6">M</text>
<circle class="sun" cx="561.7" cy="423.9" r="4.7"/><circle cx="561.7" cy="423.9" r="1.1" fill="#111"/>
<text x="574.3" y="427.6" letter-spacing="-0.90">yr</text>
<text class="s" x="590.5" y="417.9" letter-spacing="-2.10">-1</text>
<path stroke="#00ffff" stroke-width="4.2" d="M618.2 439.6H674.5"/>
<text x="495.4" y="448.4" letter-spacing="-1.60">10</text>
<text class="s" x="517.9" y="438.7">-2</text>
<text x="538.3" y="448.4">M</text>
<circle class="sun" cx="561.7" cy="444.7" r="4.7"/><circle cx="561.7" cy="444.7" r="1.1" fill="#111"/>
<text x="574.3" y="448.4" letter-spacing="-0.90">yr</text>
<text class="s" x="590.5" y="438.7" letter-spacing="-2.10">-1</text>
</g>
</svg></body></html>
